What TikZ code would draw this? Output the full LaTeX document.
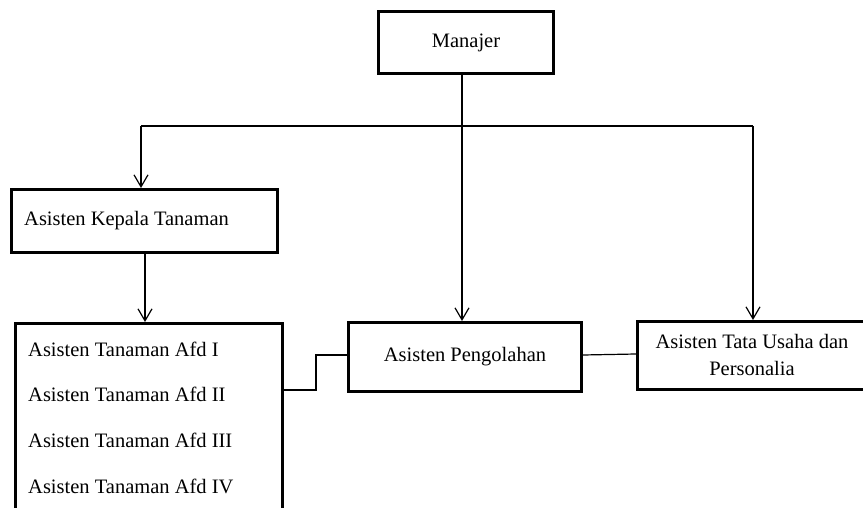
\documentclass[tikz,border=0pt]{standalone}
\usepackage{fontspec}
\setmainfont{Liberation Serif}
\usetikzlibrary{arrows.meta,calc}
\begin{document}
\begin{tikzpicture}[x=1pt,y=-1pt,
  box/.style={draw,line width=3pt,rectangle,inner sep=0pt,anchor=north west},
  conn/.style={line width=1.2pt},
  arr/.style={conn,-{Straight Barb[length=12pt,width=14pt,line width=1.2pt]}},
  lbl/.style={font=\fontsize{20.5}{24}\selectfont,inner sep=0pt}]
\useasboundingbox (0,0) rectangle (863,508);
\clip (0,0) rectangle (863,508);
\fill[white] (0,0) rectangle (863,508);
% boxes
\node[box,minimum width=175pt,minimum height=62pt] (man) at (377,10) {};
\node[lbl] at (man.center) {Manajer};
\node[box,minimum width=266pt,minimum height=63pt] (kep) at (10,188) {};
\node[lbl,anchor=west] at (24,221) {Asisten Kepala Tanaman};
\node[box,minimum width=267pt,minimum height=220pt] (list) at (14,322) {};
\node[lbl,anchor=west] (t1) at (28,349) {Asisten Tanaman Afd I};
\node[lbl,anchor=west] (t2) at (28,394) {Asisten Tanaman Afd II};
\node[lbl,anchor=west] (t3) at (28,440) {Asisten Tanaman Afd III};
\node[lbl,anchor=west] (t4) at (28,486) {Asisten Tanaman Afd IV};
\node[box,minimum width=233pt,minimum height=69pt] (pen) at (347,321) {};
\node[lbl] at (pen.center) {Asisten Pengolahan};
\node[box,minimum width=232pt,minimum height=68pt] (tat) at (636,320) {};
\node[lbl,align=center,font=\fontsize{20.5}{27}\selectfont] at (752,355) {Asisten Tata Usaha dan\\Personalia};
% connectors
\coordinate (bl) at (141,126);
\coordinate (br) at (753,126);
\coordinate (bm) at (462,126);
\draw[conn] (bl) -- (br);
\draw[arr] (bl) -- (bl |- kep.north);
\draw[arr] (br) -- (br |- tat.north);
\draw[arr] (man.south -| bm) -- (bm |- pen.north);
\draw[arr] (kep.south -| 145,0) -- (145,0 |- list.north);
\coordinate (le) at ($(list.north east)+(0,68)$);
\coordinate (pw) at ($(pen.north west)+(0,34)$);
\draw[conn] (le) -- (316,390) -- (316,355) -- (pw);
\draw[conn] ($(pen.north east)+(0,34)$) -- ($(tat.north west)+(0,34)$);
\end{tikzpicture}
\end{document}
